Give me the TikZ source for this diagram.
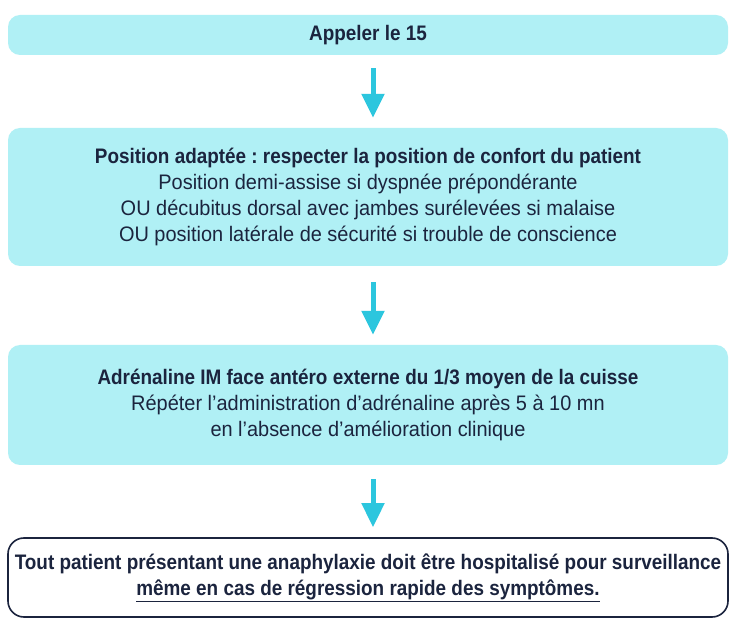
\documentclass[tikz,border=0pt]{standalone}
\usepackage{fontspec}
\setmainfont{Liberation Sans}[UprightFeatures={FakeStretch=0.95},BoldFeatures={FakeStretch=0.9}]
\usetikzlibrary{arrows.meta,calc}
\definecolor{boxfill}{RGB}{176,240,245}
\definecolor{ink}{RGB}{27,36,62}
\definecolor{arrowc}{RGB}{44,198,222}
\frenchspacing
\begin{document}
\begin{tikzpicture}[x=1pt,y=-1pt,
  box/.style={draw=none,fill=boxfill,rounded corners=12pt,minimum width=720pt,
    inner sep=0pt,align=center,text=ink,font=\fontsize{21}{26}\selectfont},
  finalbox/.style={draw=ink,line width=1.6pt,fill=white,rounded corners=16pt,minimum width=720pt,
    inner sep=0pt,align=center,text=ink,font=\fontsize{21}{26}\selectfont},
  flow/.style={draw=arrowc,line width=5pt,-{Triangle[width=22pt,length=24pt]}}]
\useasboundingbox (0,0) rectangle (729,620);
\fill[white] (0,0) rectangle (729,620);
\coordinate (ax) at (373,0);
\node[box,minimum height=40pt] (b1) at (368,35) {\bfseries Appeler le 15};
\node[box,minimum height=138pt] (b2) at (368,197) {\bfseries Position adaptée : respecter la position de confort du patient\\
Position demi-assise si dyspnée prépondérante\\
OU décubitus dorsal avec jambes surélevées si malaise\\
OU position latérale de sécurité si trouble de conscience};
\node[box,minimum height=120pt] (b3) at (368,405) {\bfseries Adrénaline IM face antéro externe du 1/3 moyen de la cuisse\\
Répéter l’administration d’adrénaline après 5 à 10 mn\\
en l’absence d’amélioration clinique};
\node[finalbox,minimum height=79pt] (b4) at (368,577.5) {\bfseries Tout patient présentant une anaphylaxie doit être hospitalisé pour surveillance\\
\bfseries\underline{même en cas de régression rapide des symptômes.}};
\draw[flow] ([yshift=-13pt]b1.south -| ax) -- ([yshift=10pt]b2.north -| ax);
\draw[flow] ([yshift=-16pt]b2.south -| ax) -- ([yshift=10pt]b3.north -| ax);
\draw[flow] ([yshift=-14pt]b3.south -| ax) -- ([yshift=10pt]b4.north -| ax);
\end{tikzpicture}
\end{document}
